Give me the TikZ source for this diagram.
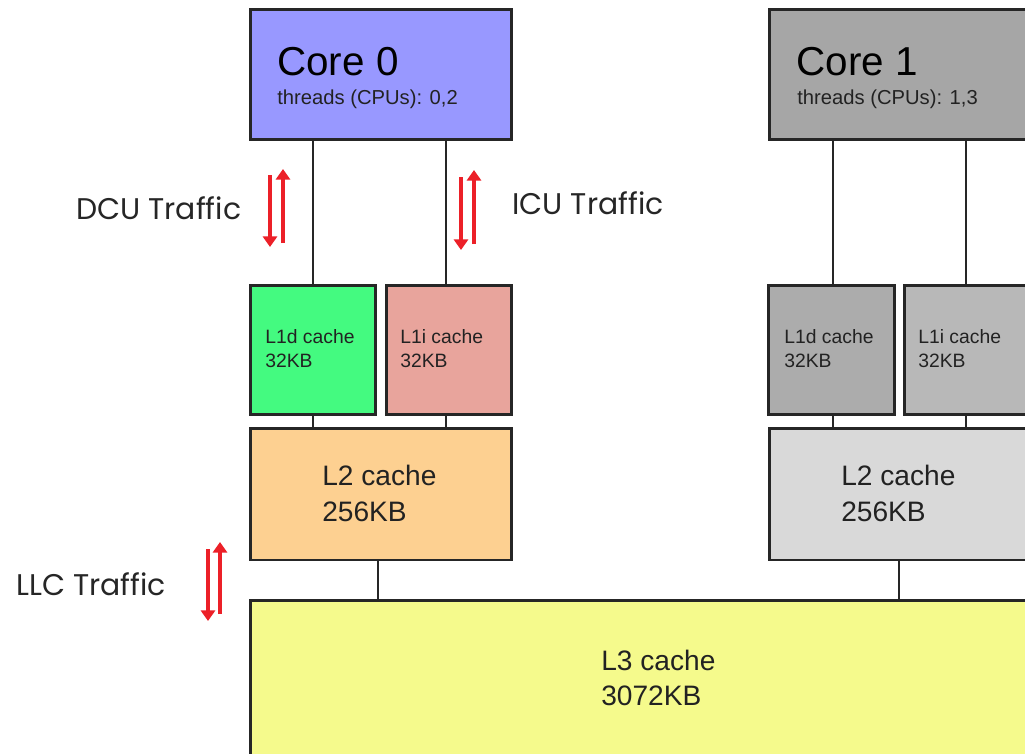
\documentclass[tikz,border=0pt]{standalone}
\usepackage{fontspec}
\setmainfont{Liberation Sans}
\newfontfamily\labelfont{Poppins}
\usetikzlibrary{arrows.meta}
\definecolor{coreA}{RGB}{152,152,255}
\definecolor{coreB}{RGB}{166,166,166}
\definecolor{lonedA}{RGB}{68,250,128}
\definecolor{loneiA}{RGB}{232,164,156}
\definecolor{lonedB}{RGB}{172,172,172}
\definecolor{loneiB}{RGB}{184,184,184}
\definecolor{ltwoA}{RGB}{253,208,145}
\definecolor{ltwoB}{RGB}{217,217,217}
\definecolor{lthree}{RGB}{245,250,140}
\definecolor{traffic}{RGB}{236,32,40}
\definecolor{boxtext}{RGB}{34,34,34}
\tikzset{
  box/.style={draw=black!85, line width=1.7pt, inner sep=0pt},
  corebox/.style={box, minimum width=5.24cm, minimum height=2.62cm},
  lonebox/.style={box, minimum width=2.52cm, minimum height=2.6cm},
  ltwobox/.style={box, minimum width=5.24cm, minimum height=2.64cm},
  link/.style={draw=black!85, line width=1.5pt},
  txt/.style={anchor=base west, inner sep=0pt, text=boxtext},
  flow/.style={draw=traffic, line width=2.4pt, -{Triangle[length=6pt,width=8pt]}},
  trafficlabel/.style={anchor=base west, inner sep=0pt, font=\labelfont\fontsize{17}{20}\selectfont, text=black!85},
}
\begin{document}
\begin{tikzpicture}[x=0.02cm, y=-0.02cm]
\useasboundingbox (0,0) rectangle (1025,754);
\clip (0,0) rectangle (1025,754);
\fill[white] (0,0) rectangle (1025,754);

% L3 cache, shared by both cores
\node[box, fill=lthree, minimum width=17cm, minimum height=4cm] (l3) at (675,700) {};
\node[txt, font=\fontsize{16}{19}\selectfont] (l3a) at (601,670) {L3 cache};
\node[txt, font=\fontsize{16}{19}\selectfont] (l3b) at (601,705) {3072KB};

% Core 0
\node[corebox, fill=coreA] (c0) at (381,74.5) {};
\node[txt, text=black, font=\fontsize{23}{27}\selectfont] (c0t) at (277,75) {Core 0};
\node[txt, font=\fontsize{11.5}{14}\selectfont] (c0s) at (277,104) {threads (CPUs): 0,2};
\node[lonebox, fill=lonedA] (d0) at (313,350) {};
\node[lonebox, fill=loneiA] (i0) at (449,350) {};
\node[txt, font=\fontsize{11}{13}\selectfont] (d0a) at (265,343) {L1d cache};
\node[txt, font=\fontsize{11}{13}\selectfont] (d0b) at (265,367) {32KB};
\node[txt, font=\fontsize{11}{13}\selectfont] (i0a) at (400,343) {L1i cache};
\node[txt, font=\fontsize{11}{13}\selectfont] (i0b) at (400,367) {32KB};
\node[ltwobox, fill=ltwoA] (m0) at (381,494) {};
\node[txt, font=\fontsize{16}{19}\selectfont] (m0a) at (322,485) {L2 cache};
\node[txt, font=\fontsize{16}{19}\selectfont] (m0b) at (322,521) {256KB};

% Core 1
\node[corebox, fill=coreB] (c1) at (900,74.5) {};
\node[txt, text=black, font=\fontsize{23}{27}\selectfont] (c1t) at (796,75) {Core 1};
\node[txt, font=\fontsize{11.5}{14}\selectfont] (c1s) at (797,104) {threads (CPUs): 1,3};
\node[lonebox, fill=lonedB] (d1) at (831.5,350) {};
\node[lonebox, fill=loneiB] (i1) at (967,350) {};
\node[txt, font=\fontsize{11}{13}\selectfont] (d1a) at (784,343) {L1d cache};
\node[txt, font=\fontsize{11}{13}\selectfont] (d1b) at (784,367) {32KB};
\node[txt, font=\fontsize{11}{13}\selectfont] (i1a) at (918,343) {L1i cache};
\node[txt, font=\fontsize{11}{13}\selectfont] (i1b) at (918,367) {32KB};
\node[ltwobox, fill=ltwoB] (m1) at (900,494) {};
\node[txt, font=\fontsize{16}{19}\selectfont] (m1a) at (841,485) {L2 cache};
\node[txt, font=\fontsize{16}{19}\selectfont] (m1b) at (841,521) {256KB};

% links between levels
\draw[link] (d0.north) -- (d0.north |- c0.south);
\draw[link] ([xshift=-0.06cm]i0.north) -- ([xshift=-0.06cm]i0.north |- c0.south);
\draw[link] (d0.south) -- (d0.south |- m0.north);
\draw[link] ([xshift=-0.06cm]i0.south) -- ([xshift=-0.06cm]i0.south |- m0.north);
\draw[link] ([xshift=-0.06cm]m0.south) -- ([xshift=-0.06cm]m0.south |- l3.north);
\draw[link] ([xshift=0.03cm]d1.north) -- ([xshift=0.03cm]d1.north |- c1.south);
\draw[link] ([xshift=-0.02cm]i1.north) -- ([xshift=-0.02cm]i1.north |- c1.south);
\draw[link] ([xshift=0.03cm]d1.south) -- ([xshift=0.03cm]d1.south |- m1.north);
\draw[link] ([xshift=-0.02cm]i1.south) -- ([xshift=-0.02cm]i1.south |- m1.north);
\draw[link] ([xshift=-0.02cm]m1.south) -- ([xshift=-0.02cm]m1.south |- l3.north);

% traffic labels and arrows
\node[trafficlabel] (dcu) at (76,219) {DCU Traffic};
\node[trafficlabel] (icu) at (512,214) {ICU Traffic};
\node[trafficlabel] (llc) at (16,595) {LLC Traffic};

\coordinate (dcuA) at (270,175); \coordinate (dcuB) at (270,247);
\coordinate (dcuC) at (283,243); \coordinate (dcuD) at (283,169);
\coordinate (icuA) at (461,177); \coordinate (icuB) at (461,250);
\coordinate (icuC) at (474,244); \coordinate (icuD) at (474,170);
\coordinate (llcA) at (208,549); \coordinate (llcB) at (208,621);
\coordinate (llcC) at (220,614); \coordinate (llcD) at (220,542);
\draw[flow] (dcuA) -- (dcuB);
\draw[flow] (dcuC) -- (dcuD);
\draw[flow] (icuA) -- (icuB);
\draw[flow] (icuC) -- (icuD);
\draw[flow] (llcA) -- (llcB);
\draw[flow] (llcC) -- (llcD);
\end{tikzpicture}
\end{document}
